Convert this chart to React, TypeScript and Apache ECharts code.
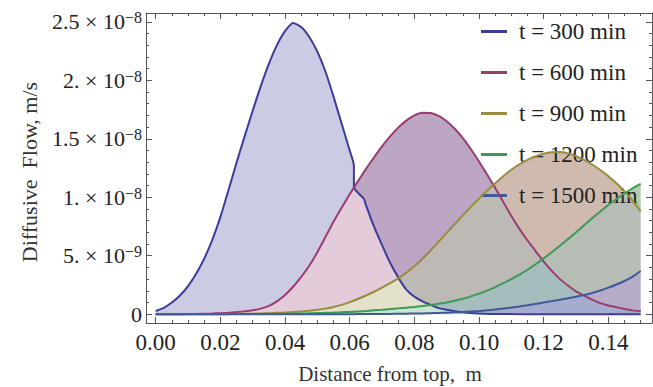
import React, { useEffect, useRef } from "react";
import * as echarts from "echarts";

// Sampling positions (m) shared by the 600–1500 min profiles
const distance = [
  0, 0.0025, 0.005, 0.0075, 0.01, 0.0125, 0.015, 0.0175, 0.02, 0.0225,
  0.025, 0.0275, 0.03, 0.0325, 0.035, 0.0375, 0.04, 0.0425, 0.045, 0.0475,
  0.05, 0.0525, 0.055, 0.0575, 0.06, 0.0625, 0.065, 0.0675, 0.07, 0.0725,
  0.075, 0.0775, 0.08, 0.0825, 0.085, 0.0875, 0.09, 0.0925, 0.095, 0.0975,
  0.1, 0.1025, 0.105, 0.1075, 0.11, 0.1125, 0.115, 0.1175, 0.12, 0.1225,
  0.125, 0.1275, 0.13, 0.1325, 0.135, 0.1375, 0.14, 0.1425, 0.145, 0.1475,
  0.15,
];

// The 300 min profile has its own sampling (it contains a step near 0.061 m)
const distance300 = [
  0, 0.0025, 0.005, 0.0075, 0.01, 0.0125, 0.015, 0.0175, 0.02, 0.0225,
  0.025, 0.0275, 0.03, 0.0325, 0.035, 0.0375, 0.04, 0.0425, 0.045, 0.0475,
  0.05, 0.0525, 0.055, 0.0575, 0.06, 0.0613, 0.06131, 0.0625, 0.0644, 0.065,
  0.0675, 0.07, 0.0725, 0.075, 0.0775, 0.08, 0.0825, 0.085, 0.0875, 0.09,
  0.0925, 0.095, 0.0975, 0.1, 0.1025, 0.105, 0.11, 0.12, 0.13, 0.14, 0.15,
];

// Diffusive flow, in units of 1e-9 m/s
const flow300 = [
  0.28, 0.55, 1.0, 1.6, 2.4, 3.45, 4.75, 6.35, 8.3, 10.6,
  12.95, 15.2, 17.4, 19.5, 21.4, 23.0, 24.2, 24.9, 24.55, 23.7,
  22.45, 20.75, 18.6, 16.3, 14.0, 12.7, 10.86, 10.4, 9.87, 9.35,
  7.5, 5.9, 4.4, 3.15, 2.1, 1.5, 1.1, 0.8, 0.52, 0.38,
  0.26, 0.17, 0.1, 0.06, 0.03, 0.02, 0.01, 0, 0, 0, 0,
];

const flow600 = [
  0.01, 0.01, 0.01, 0.02, 0.02, 0.03, 0.04, 0.06, 0.09, 0.13,
  0.18, 0.25, 0.34, 0.48, 0.72, 1.1, 1.65, 2.35, 3.2, 4.15,
  5.3, 6.6, 7.9, 9.1, 10.25, 11.35, 12.4, 13.4, 14.35, 15.2,
  15.95, 16.55, 17.0, 17.22, 17.2, 16.95, 16.5, 15.85, 15.05, 14.1,
  13.05, 11.95, 10.8, 9.6, 8.4, 7.3, 6.3, 5.4, 4.5, 3.7,
  3.0, 2.45, 1.95, 1.6, 1.25, 0.95, 0.75, 0.6, 0.45, 0.33,
  0.25,
];

const flow900 = [
  0, 0, 0, 0, 0.01, 0.01, 0.01, 0.02, 0.02, 0.03,
  0.03, 0.04, 0.05, 0.07, 0.09, 0.12, 0.15, 0.19, 0.24, 0.3,
  0.38, 0.48, 0.62, 0.8, 1.03, 1.3, 1.6, 1.92, 2.27, 2.65,
  3.07, 3.55, 4.1, 4.75, 5.45, 6.2, 6.95, 7.7, 8.45, 9.18,
  9.88, 10.56, 11.2, 11.8, 12.35, 12.82, 13.2, 13.5, 13.72, 13.84,
  13.86, 13.75, 13.52, 13.2, 12.8, 12.33, 11.8, 11.2, 10.5, 9.7,
  8.8,
];

const flow1200 = [
  0, 0, 0, 0, 0, 0, 0, 0, 0, 0.01,
  0.01, 0.01, 0.01, 0.02, 0.02, 0.03, 0.04, 0.05, 0.06, 0.08,
  0.1, 0.12, 0.14, 0.17, 0.2, 0.24, 0.28, 0.33, 0.38, 0.44,
  0.5, 0.56, 0.62, 0.7, 0.79, 0.89, 1.0, 1.15, 1.32, 1.53,
  1.76, 2.02, 2.32, 2.65, 3.0, 3.38, 3.8, 4.27, 4.77, 5.3,
  5.85, 6.42, 7.0, 7.6, 8.2, 8.78, 9.33, 9.85, 10.33, 10.77,
  11.15,
];

const flow1500 = [
  0, 0, 0, 0, 0, 0, 0, 0, 0, 0,
  0, 0, 0, 0, 0, 0, 0, 0, 0, 0,
  0, 0, 0, 0, 0, 0.01, 0.01, 0.02, 0.02, 0.03,
  0.04, 0.05, 0.06, 0.07, 0.09, 0.11, 0.13, 0.16, 0.19, 0.23,
  0.27, 0.33, 0.4, 0.48, 0.57, 0.67, 0.77, 0.88, 1.0, 1.12,
  1.24, 1.37, 1.5, 1.64, 1.82, 2.03, 2.27, 2.54, 2.84, 3.22,
  3.7,
];

const seriesNames = ["t = 300 min", "t = 600 min", "t = 900 min", "t = 1200 min", "t = 1500 min"];
const seriesColors = ["#3D3D99", "#993D71", "#998C3D", "#3D9956", "#3D5A99"];

// Axis ticks
const xMajorTicks = [0, 0.02, 0.04, 0.06, 0.08, 0.1, 0.12, 0.14];
const xMinorTicks = [
  0.005, 0.01, 0.015, 0.025, 0.03, 0.035, 0.045, 0.05, 0.055, 0.065, 0.07, 0.075,
  0.085, 0.09, 0.095, 0.105, 0.11, 0.115, 0.125, 0.13, 0.135, 0.145, 0.15,
];
const yMajorTicks = [0, 5, 10, 15, 20, 25];
const yMinorTicks = [1, 2, 3, 4, 6, 7, 8, 9, 11, 12, 13, 14, 16, 17, 18, 19, 21, 22, 23, 24];
const yTickLabels = [
  "{b|0}",
  "{b|5. × 10}{s|−9}",
  "{b|1. × 10}{s|−8}",
  "{b|1.5 × 10}{s|−8}",
  "{b|2. × 10}{s|−8}",
  "{b|2.5 × 10}{s|−8}",
];

const FONT = '"Liberation Serif", "Times New Roman", serif';
const FRAME = "#555555";
const FILL_ALPHA = 0.27;

const xRange = { min: -0.003, max: 0.1535 };
const yRange = { min: -0.75, max: 25.75 };

function rgba(hex: string, a: number) {
  const n = parseInt(hex.slice(1), 16);
  return `rgba(${(n >> 16) & 255},${(n >> 8) & 255},${n & 255},${a})`;
}

function frameX(position: "top" | "bottom", ticks: number[], len: number, withLine: boolean, labels: boolean) {
  return {
    type: "value",
    position,
    ...xRange,
    axisLine: { show: withLine, onZero: false, lineStyle: { color: FRAME, width: 1 } },
    axisTick: { show: true, inside: true, length: len, customValues: ticks, lineStyle: { color: FRAME, width: 1 } },
    axisLabel: labels
      ? {
          show: true,
          customValues: ticks,
          formatter: (v: number) => v.toFixed(2),
          fontFamily: FONT,
          fontSize: 23,
          color: "#222",
          margin: 8,
        }
      : { show: false },
    splitLine: { show: false },
  };
}

function frameY(position: "left" | "right", ticks: number[], len: number, withLine: boolean, labels: boolean) {
  return {
    type: "value",
    position,
    ...yRange,
    axisLine: { show: withLine, onZero: false, lineStyle: { color: FRAME, width: 1 } },
    axisTick: { show: true, inside: true, length: len, customValues: ticks, lineStyle: { color: FRAME, width: 1 } },
    axisLabel: labels
      ? {
          show: true,
          customValues: ticks,
          formatter: (v: number) => {
            const i = yMajorTicks.findIndex((t) => Math.abs(t - v) < 1e-6);
            return i >= 0 ? yTickLabels[i] : "";
          },
          margin: 4,
          color: "#222",
          rich: {
            b: { fontFamily: FONT, fontSize: 22, color: "#222", lineHeight: 24 },
            s: { fontFamily: FONT, fontSize: 16, color: "#222", verticalAlign: "top", lineHeight: 16 },
          },
        }
      : { show: false },
    splitLine: { show: false },
  };
}

export default function App() {
  const ref = useRef<HTMLDivElement>(null);

  useEffect(() => {
    if (!ref.current) return;
    const chart = echarts.init(ref.current, null, { renderer: "svg" });

    const profiles = [
      distance300.map((x, i) => [x, flow300[i]]),
      distance.map((x, i) => [x, flow600[i]]),
      distance.map((x, i) => [x, flow900[i]]),
      distance.map((x, i) => [x, flow1200[i]]),
      distance.map((x, i) => [x, flow1500[i]]),
    ];
    const baseline = [
      [distance[0], 0],
      [distance[distance.length - 1], 0],
    ];

    // Each profile is shaded down to the next later profile (the last one down to zero)
    const bands = profiles.map((upper, k) => ({
      type: "custom",
      xAxisIndex: 0,
      yAxisIndex: 0,
      silent: true,
      z: 1,
      data: [[0, 0]],
      renderItem: (_params: any, api: any) => {
        const lower = k + 1 < profiles.length ? profiles[k + 1] : baseline;
        const pts = [
          ...upper.map((p) => api.coord(p)),
          ...lower.slice().reverse().map((p) => api.coord(p)),
        ];
        return {
          type: "polygon",
          shape: { points: pts },
          style: { fill: rgba(seriesColors[k], FILL_ALPHA), stroke: "none" },
        };
      },
    }));

    const lines = profiles.map((data, k) => ({
      type: "line",
      name: seriesNames[k],
      data,
      xAxisIndex: 0,
      yAxisIndex: 0,
      showSymbol: false,
      symbol: "none",
      smooth: 0.2,
      color: seriesColors[k],
      lineStyle: { color: seriesColors[k], width: 2 },
      itemStyle: { color: seriesColors[k] },
      z: 3 + k,
    }));

    chart.setOption({
      animation: false,
      backgroundColor: "#ffffff",
      grid: { left: 146, right: 1, top: 13, bottom: 64, containLabel: false },
      xAxis: [
        frameX("bottom", xMajorTicks, 6, true, true),
        frameX("bottom", xMinorTicks, 3, false, false),
        frameX("top", xMajorTicks, 6, true, false),
        frameX("top", xMinorTicks, 3, false, false),
      ],
      yAxis: [
        frameY("left", yMajorTicks, 6, true, true),
        frameY("left", yMinorTicks, 3, false, false),
        frameY("right", yMajorTicks, 6, true, false),
        frameY("right", yMinorTicks, 3, false, false),
      ],
      legend: {
        orient: "vertical",
        left: 481,
        top: 20,
        padding: 0,
        itemWidth: 26,
        itemHeight: 3,
        itemGap: 18,
        icon: "rect",
        data: seriesNames,
        textStyle: {
          fontFamily: FONT,
          fontSize: 23,
          color: "#222",
          lineHeight: 22,
          padding: [0, 0, 0, 7],
        },
      },
      series: [...bands, ...lines],
      graphic: [
        {
          type: "text",
          x: 29,
          y: 172,
          rotation: Math.PI / 2,
          style: {
            text: "Diffusive  Flow, m/s",
            fontFamily: FONT,
            fontSize: 22,
            fill: "#333",
            textAlign: "center",
            textVerticalAlign: "middle",
          },
        },
        {
          type: "text",
          x: 390,
          y: 374,
          style: {
            text: "Distance from top,  m",
            fontFamily: FONT,
            fontSize: 21,
            fill: "#333",
            textAlign: "center",
            textVerticalAlign: "middle",
          },
        },
      ],
    });

    return () => chart.dispose();
  }, []);

  return (
    <div
      ref={ref}
      style={{ position: "fixed", left: 0, top: 0, width: 653, height: 387, background: "#fff" }}
    />
  );
}
